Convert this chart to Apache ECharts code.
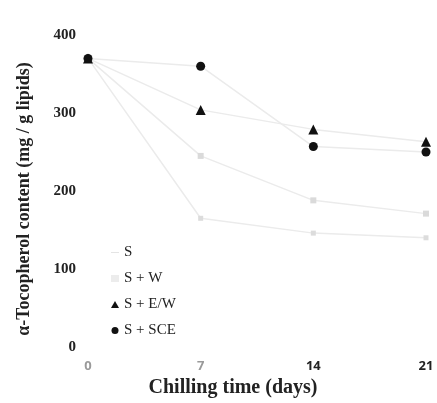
<!DOCTYPE html>
<html>
<head>
<meta charset="utf-8">
<script src="https://cdn.jsdelivr.net/npm/echarts@6/dist/echarts.min.js"></script>
<style>
  html, body { margin: 0; padding: 0; background: #fff; }
  #chart { width: 437px; height: 403px; }
</style>
</head>
<body>
<div id="chart"></div>
<script>
// chilling time (days) and alpha-tocopherol content (mg / g lipids)
var days = [0, 7, 14, 21];
var yTicks = [0, 100, 200, 300, 400];
var valS = [370, 165, 146, 140];
var valSW = [370, 245, 188, 171];
var valSEW = [370, 304, 279, 263];
var valSSCE = [370, 360, 257, 250];
var names = ["S", "S + W", "S + E/W", "S + SCE"];

function pairs(vals) {
  return days.map(function (d, i) { return [d, vals[i]]; });
}

var lineGray = "#ebebeb";
var serif = "Liberation Serif";

var myChart = echarts.init(document.getElementById("chart"));
myChart.setOption({
  animation: false,
  grid: { left: 88, right: 11, top: 35, bottom: 53 },
  legend: {
    orient: "vertical",
    left: 106,
    top: 240,
    itemGap: 11,
    itemWidth: 8,
    itemHeight: 7,
    textStyle: { fontFamily: serif, fontSize: 15, color: "#222" },
    data: [
      { name: names[0], icon: "path://M0,4 L12,4 L12,5.5 L0,5.5 Z", itemStyle: { color: "#e4e4e4" } },
      { name: names[1], icon: "rect", itemStyle: { color: "#ececec" } },
      { name: names[2], icon: "triangle", itemStyle: { color: "#111" } },
      { name: names[3], icon: "circle", itemStyle: { color: "#111" } }
    ]
  },
  xAxis: {
    type: "value",
    min: 0,
    max: 21,
    interval: 7,
    axisLine: { show: false },
    axisTick: { show: false },
    splitLine: { show: false },
    axisLabel: {
      margin: 13, fontFamily: "Open Sans", fontWeight: "bold", fontSize: 13,
      color: function (v) { return v < 10 ? "#9a9a9a" : "#222"; }
    },
    name: "Chilling time (days)",
    nameLocation: "middle",
    nameGap: 31,
    nameTextStyle: { fontFamily: serif, fontWeight: "bold", fontSize: 20, color: "#222", padding: [0, 48, 0, 0] }
  },
  yAxis: {
    type: "value",
    min: yTicks[0],
    max: yTicks[yTicks.length - 1],
    interval: 100,
    axisLine: { show: false },
    axisTick: { show: false },
    splitLine: { show: false },
    axisLabel: { margin: 12, fontFamily: serif, fontWeight: "bold", fontSize: 15, color: "#222" },
    name: "α-Tocopherol content (mg / g lipids)",
    nameLocation: "middle",
    nameGap: 55,
    nameTextStyle: { fontFamily: serif, fontWeight: "bold", fontSize: 18, color: "#222", padding: [0, 16, 0, 0] }
  },
  series: [
    {
      name: names[0], type: "line", data: pairs(valS),
      symbol: "rect", symbolSize: 5,
      itemStyle: { color: "#dcdcdc" },
      lineStyle: { color: lineGray, width: 1.5 }
    },
    {
      name: names[1], type: "line", data: pairs(valSW),
      symbol: "rect", symbolSize: 6,
      itemStyle: { color: "#dadada" },
      lineStyle: { color: lineGray, width: 1.5 }
    },
    {
      name: names[2], type: "line", data: pairs(valSEW),
      symbol: "triangle", symbolSize: 10,
      itemStyle: { color: "#111" },
      lineStyle: { color: lineGray, width: 1.5 }
    },
    {
      name: names[3], type: "line", data: pairs(valSSCE),
      symbol: "circle", symbolSize: 9,
      itemStyle: { color: "#111" },
      lineStyle: { color: lineGray, width: 1.5 }
    }
  ]
});
</script>
</body>
</html>
